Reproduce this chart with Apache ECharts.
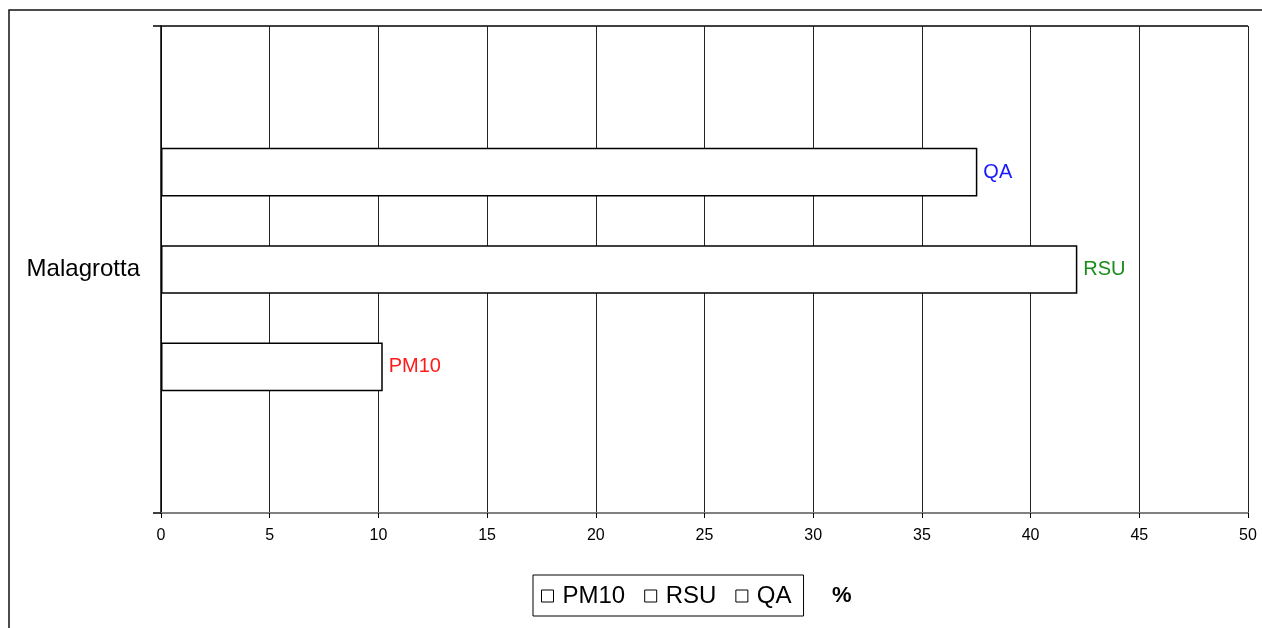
<!DOCTYPE html>
<html>
<head>
<meta charset="utf-8">
<title>Malagrotta</title>
<script src="https://cdn.jsdelivr.net/npm/echarts@6/dist/echarts.min.js"></script>
<style>
  html, body { margin: 0; padding: 0; background: #fff; }
  #chart { width: 1262px; height: 628px; }
</style>
</head>
<body>
<div id="chart"></div>
<script>
// Categories and series values (percent)
const categories = ['Malagrotta'];
const seriesNames = ['PM10', 'RSU', 'QA'];
const pm10Values = [10.2];
const rsuValues = [42.15];
const qaValues = [37.55];
const labelColors = ['#ff1a1a', '#1a8c1a', '#1a1aff'];

const FONT = '"Liberation Sans", Arial, sans-serif';
const valuesBySeries = [pm10Values, rsuValues, qaValues];

const chart = echarts.init(document.getElementById('chart'), null, { renderer: 'canvas' });

// Bars are stacked top-to-bottom in series order, so add them reversed
// to put PM10 at the bottom and QA at the top.
const series = seriesNames.map((name, i) => ({
  name: name,
  type: 'bar',
  data: valuesBySeries[i],
  barGap: '100%',
  barCategoryGap: '50%',
  itemStyle: { color: '#ffffff', borderColor: '#000000', borderWidth: 1.5 },
  emphasis: { disabled: true },
  label: {
    show: true,
    position: 'right',
    distance: 6,
    formatter: name,
    color: labelColors[i],
    fontSize: 20,
    fontFamily: FONT
  }
})).reverse();

chart.setOption({
  animation: false,
  backgroundColor: '#ffffff',
  textStyle: { fontFamily: FONT },
  title: {
    text: '%',
    left: 832,
    top: 585,
    padding: 0,
    textStyle: { fontSize: 22, fontWeight: 'bold', color: '#000', fontFamily: FONT }
  },
  graphic: [{
    // outer frame of the chart area
    type: 'rect',
    shape: { x: 9, y: 10, width: 1400, height: 800 },
    style: { fill: 'none', stroke: '#111', lineWidth: 1.5 },
    silent: true,
    z: 100
  }],
  legend: {
    data: seriesNames,
    left: 533,
    top: 575,
    orient: 'horizontal',
    icon: 'rect',
    itemWidth: 12,
    itemHeight: 12,
    itemGap: 19,
    padding: [9, 12, 8, 8],
    borderColor: '#000',
    borderWidth: 1,
    itemStyle: { color: '#fff', borderColor: '#000', borderWidth: 1 },
    textStyle: { fontSize: 24, color: '#000', fontFamily: FONT, padding: [0, 0, 0, 4] },
    selectedMode: false
  },
  grid: { left: 161, right: 14, top: 26, bottom: 115, containLabel: false },
  xAxis: {
    type: 'value',
    min: 0,
    max: 50,
    interval: 5,
    axisLine: { show: true, lineStyle: { color: '#808080', width: 2 } },
    axisTick: { show: true, length: 5, lineStyle: { color: '#000', width: 1 } },
    axisLabel: { fontSize: 16, color: '#000', margin: 15, fontFamily: FONT },
    splitLine: { show: true, lineStyle: { color: '#222', width: 1 } }
  },
  yAxis: {
    type: 'category',
    data: categories,
    axisLine: { show: true, onZero: false, lineStyle: { color: '#000', width: 1.5 } },
    axisTick: { show: true, length: 8, lineStyle: { color: '#000', width: 1.5 } },
    axisLabel: { fontSize: 24, color: '#000', margin: 21, fontFamily: FONT },
    splitLine: { show: true, lineStyle: { color: '#000', width: 1.5 } }
  },
  series: series
});
</script>
</body>
</html>
